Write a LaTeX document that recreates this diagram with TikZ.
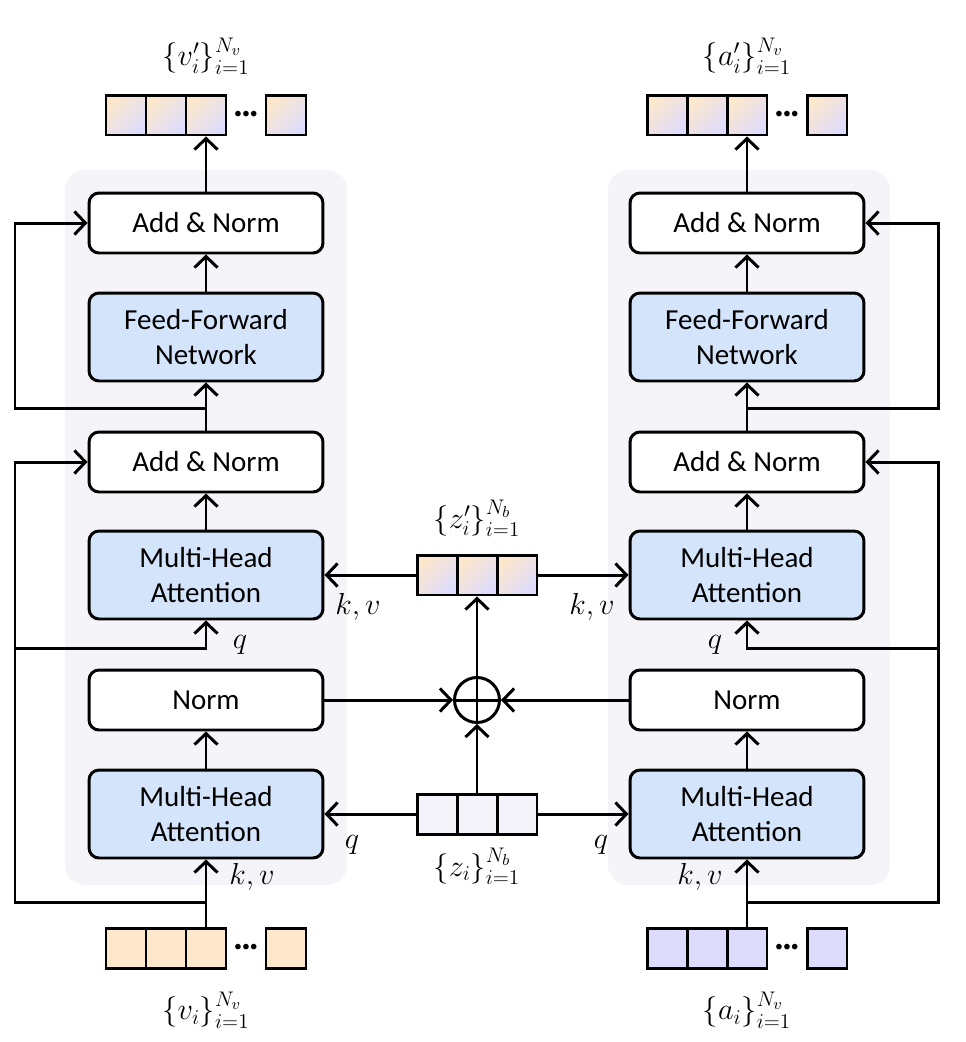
\documentclass[tikz,border=0pt]{standalone}
\usepackage{amsmath}
\usepackage{fontspec}
\setmainfont{Carlito}
\usetikzlibrary{positioning,arrows.meta,calc}

\definecolor{panelgray}{RGB}{244,244,249}
\definecolor{blockblue}{RGB}{212,229,251}
\definecolor{tokorange}{RGB}{253,232,204}
\definecolor{toklav}{RGB}{222,220,252}
\definecolor{tokgray}{RGB}{243,243,249}

\begin{document}
\begin{tikzpicture}[x=0.02cm, y=-0.02cm, line width=1.7pt,
    >={Straight Barb[length=2.2mm,width=4.6mm]},
    font=\fontsize{16.5}{19.5}\selectfont,
    block/.style={draw, fill=white, rounded corners=0.2cm, minimum width=4.68cm, minimum height=1.2cm, align=center},
    attn/.style={block, fill=blockblue, minimum height=1.76cm},
    tok/.style={draw, minimum size=0.8cm, inner sep=0pt},
    tokv/.style={tok, fill=tokorange},
    toka/.style={tok, fill=toklav},
    tokz/.style={tok, fill=tokgray},
    tokout/.style={tok, top color=tokorange, bottom color=toklav, shading angle=45},
    dots/.style={inner sep=0pt, font=\fontsize{9}{9}\selectfont},
    lab/.style={inner sep=1pt, font=\fontsize{18}{21}\selectfont}]
  \useasboundingbox (0,0) rectangle (966,1042);

  % background panels
  \fill[panelgray, rounded corners=0.4cm] (65,170) rectangle (347,885);
  \fill[panelgray, rounded corners=0.4cm] (608,170) rectangle (890,885);

  % left stack
  \node (anL) at (206,223) [block] {Add \& Norm};
  \node (ffnL) at (206,337) [attn] {Feed-Forward\\Network};
  \node (an2L) at (206,462) [block] {Add \& Norm};
  \node (mhaL2) at (206,575) [attn] {Multi-Head\\Attention};
  \node (normL) at (206,700) [block] {Norm};
  \node (mhaL1) at (206,814) [attn] {Multi-Head\\Attention};

  % right stack
  \node (anR) at (747,223) [block] {Add \& Norm};
  \node (ffnR) at (747,337) [attn] {Feed-Forward\\Network};
  \node (an2R) at (747,462) [block] {Add \& Norm};
  \node (mhaR2) at (747,575) [attn] {Multi-Head\\Attention};
  \node (normR) at (747,700) [block] {Norm};
  \node (mhaR1) at (747,814) [attn] {Multi-Head\\Attention};

  % token rows
  \foreach \i/\x in {1/126,2/166,3/206} {
    \node (vL\i) at (\x,948) [tokv] {};
    \node (vpL\i) at (\x,115) [tokout] {};
  }
  \foreach \i/\x in {1/667,2/707,3/747} {
    \node (aR\i) at (\x,948) [toka] {};
    \node (apR\i) at (\x,115) [tokout] {};
  }
  \foreach \i/\x in {1/437,2/477,3/517} {
    \node (z\i) at (\x,814) [tokz] {};
    \node (zp\i) at (\x,575) [tokout] {};
  }
  \node (vLn) at (286,948) [tokv] {};
  \node (vpLn) at (286,115) [tokout] {};
  \node (aRn) at (827,948) [toka] {};
  \node (apRn) at (827,115) [tokout] {};
  \node (dotsv) at (246,948) [dots] {\textbullet\textbullet\textbullet};
  \node (dotsvp) at (246,115) [dots] {\textbullet\textbullet\textbullet};
  \node (dotsa) at (787,948) [dots] {\textbullet\textbullet\textbullet};
  \node (dotsap) at (787,115) [dots] {\textbullet\textbullet\textbullet};

  % set labels
  \node (labvp) at (206,56) [lab] {$\{v_i'\}_{i=1}^{N_v}$};
  \node (labap) at (747,56) [lab] {$\{a_i'\}_{i=1}^{N_v}$};
  \node (labv) at (206,1010) [lab] {$\{v_i\}_{i=1}^{N_v}$};
  \node (laba) at (747,1010) [lab] {$\{a_i\}_{i=1}^{N_v}$};
  \node (labzp) at (477,518) [lab] {$\{z_i'\}_{i=1}^{N_b}$};
  \node (labz) at (477,866) [lab] {$\{z_i\}_{i=1}^{N_b}$};

  % fusion
  \node (plus) at (477,700) [circle, draw, minimum size=0.9cm, inner sep=0pt] {};
  \draw (plus.north) -- (plus.south) (plus.west) -- (plus.east);

  % main flow
  \draw[->] (vL3.north) -- (mhaL1.south);
  \draw[->] (mhaL1) -- (normL);
  \draw[->] (an2L) -- (ffnL);
  \draw[->] (mhaL2) -- (an2L);
  \draw[->] (ffnL) -- (anL);
  \draw[->] (anL) -- (vpL3);
  \draw[->] (aR3.north) -- (mhaR1.south);
  \draw[->] (mhaR1) -- (normR);
  \draw[->] (an2R) -- (ffnR);
  \draw[->] (mhaR2) -- (an2R);
  \draw[->] (ffnR) -- (anR);
  \draw[->] (anR) -- (apR3);

  % shared tokens
  \draw[->] (z1.west) -- (mhaL1.east);
  \draw[->] (z3.east) -- (mhaR1.west);
  \draw[->] (zp1.west) -- (mhaL2.east);
  \draw[->] (zp3.east) -- (mhaR2.west);
  \draw[->] (normL.east) -- (plus.west);
  \draw[->] (normR.west) -- (plus.east);
  \draw[->] (z2.north) -- (plus.south);
  \draw[->] (plus.north) -- (zp2.south);

  % residual paths
  \coordinate (inL) at (206,902);
  \coordinate (railL) at (15,902);
  \coordinate (qL) at (15,648);
  \coordinate (midL) at (206,408);
  \draw[->] (inL) -- (railL) |- (an2L.west);
  \draw[->] (qL) -| (mhaL2.south);
  \draw[->] (midL) -- ++(-191,0) |- (anL.west);
  \coordinate (inR) at (747,902);
  \coordinate (railR) at (938,902);
  \coordinate (qR) at (938,648);
  \coordinate (midR) at (747,408);
  \draw[->] (inR) -- (railR) |- (an2R.east);
  \draw[->] (qR) -| (mhaR2.south);
  \draw[->] (midR) -- ++(191,0) |- (anR.east);

  % q / k,v labels
  \node (kvL1) at (252,877) [lab] {$k,v$};
  \node (qL1) at (352,845) [lab] {$q$};
  \node (qL2) at (240,645) [lab] {$q$};
  \node (kvL2) at (358,607) [lab] {$k,v$};
  \node (kvR1) at (700,877) [lab] {$k,v$};
  \node (qR1) at (601,845) [lab] {$q$};
  \node (qR2) at (715,645) [lab] {$q$};
  \node (kvR2) at (592,607) [lab] {$k,v$};
\end{tikzpicture}
\end{document}
